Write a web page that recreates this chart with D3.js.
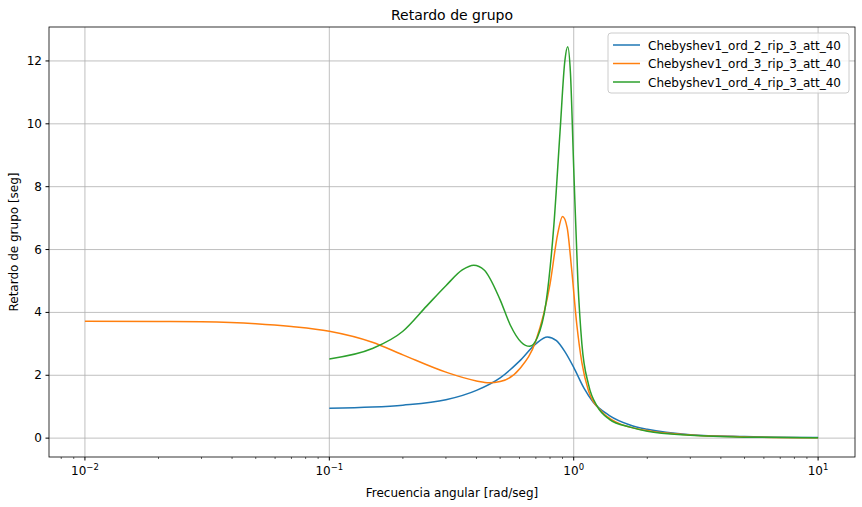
<!DOCTYPE html><html><head><meta charset="utf-8">
<script src="https://cdn.jsdelivr.net/npm/d3@7"></script>
<style>body{margin:0;background:#fff}text{font-family:"DejaVu Sans",sans-serif}</style></head><body>
<svg id="c" width="862" height="507"></svg>
<script>
const seriesNames=["Chebyshev1_ord_2_rip_3_att_40","Chebyshev1_ord_3_rip_3_att_40","Chebyshev1_ord_4_rip_3_att_40"];
const colors=["#1f77b4","#ff7f0e","#2ca02c"];
const ord2=[[0.1,0.95],[0.15,0.99],[0.2,1.05],[0.3,1.22],[0.4,1.52],[0.5,1.92],[0.6,2.45],[0.7,3.0],[0.78,3.22],[0.85,3.1],[0.92,2.75],[1.0,2.25],[1.1,1.6],[1.2,1.15],[1.4,0.72],[1.7,0.42],[2,0.28],[3,0.11],[5,0.05],[10,0.02]];
const ord3=[[0.01,3.72],[0.02,3.71],[0.03,3.7],[0.05,3.64],[0.07,3.55],[0.1,3.4],[0.15,3.05],[0.2,2.65],[0.3,2.1],[0.4,1.82],[0.45,1.76],[0.5,1.8],[0.6,2.2],[0.7,3.1],[0.8,4.9],[0.86,6.5],[0.9,7.05],[0.94,6.7],[0.98,5.4],[1.03,3.6],[1.08,2.4],[1.15,1.5],[1.3,0.85],[1.5,0.5],[2,0.24],[3,0.1],[5,0.04],[10,0.01]];
const ord4=[[0.1,2.52],[0.15,2.85],[0.2,3.4],[0.25,4.2],[0.3,4.85],[0.35,5.35],[0.39,5.5],[0.43,5.35],[0.5,4.4],[0.55,3.6],[0.61,3.05],[0.66,2.92],[0.71,3.2],[0.77,4.3],[0.83,6.8],[0.88,9.8],[0.92,12.0],[0.945,12.45],[0.97,11.6],[1.0,8.6],[1.04,5.0],[1.08,3.0],[1.15,1.7],[1.25,1.0],[1.4,0.6],[1.7,0.35],[2,0.22],[3,0.09],[5,0.03],[10,0.01]];
const yTicks=[0,2,4,6,8,10,12];
const xTicks=[0.01,0.1,1,10];
const data=[ord2,ord3,ord4];
const L=49,R=855,T=27,B=457;
const svg=d3.select("#c");
const x=d3.scaleLog().domain([Math.pow(10,-2.147),Math.pow(10,1.151)]).range([L,R]);
const y=d3.scaleLinear().domain([-0.6,13.08]).range([B,T]);
const g=svg.append("g");
xTicks.forEach(t=>g.append("line").attr("x1",x(t)).attr("x2",x(t)).attr("y1",T).attr("y2",B).attr("stroke","#b0b0b0").attr("stroke-width",0.8));
yTicks.forEach(t=>g.append("line").attr("x1",L).attr("x2",R).attr("y1",y(t)).attr("y2",y(t)).attr("stroke","#b0b0b0").attr("stroke-width",0.8));
const minor=[];for(let e=-3;e<=1;e++)for(let k=2;k<=9;k++){const v=k*Math.pow(10,e);if(v>x.domain()[0]&&v<x.domain()[1])minor.push(v);}
minor.forEach(t=>g.append("line").attr("x1",x(t)).attr("x2",x(t)).attr("y1",B).attr("y2",B+2).attr("stroke","#000").attr("stroke-width",0.6));
xTicks.forEach(t=>{g.append("line").attr("x1",x(t)).attr("x2",x(t)).attr("y1",B).attr("y2",B+3.5).attr("stroke","#000");
 const tx=g.append("text").attr("x",x(t)).attr("y",B+18).attr("text-anchor","middle").attr("font-size",12);
 tx.append("tspan").text("10");tx.append("tspan").attr("dy",-5).attr("font-size",8.5).text(String(Math.round(Math.log10(t))).replace("-","\u2212"));});
yTicks.forEach(t=>{g.append("line").attr("x1",L-3.5).attr("x2",L).attr("y1",y(t)).attr("y2",y(t)).attr("stroke","#000");
 g.append("text").attr("x",L-7).attr("y",y(t)+4).attr("text-anchor","end").attr("font-size",12).text(t);});
const line=d3.line().x(d=>x(d[0])).y(d=>y(d[1])).curve(d3.curveMonotoneX);
data.forEach((d,i)=>g.append("path").attr("d",line(d)).attr("fill","none").attr("stroke",colors[i]).attr("stroke-width",1.5));
g.append("rect").attr("x",L).attr("y",T).attr("width",R-L).attr("height",B-T).attr("fill","none").attr("stroke","#000").attr("stroke-width",0.8);
svg.append("text").attr("x",(L+R)/2).attr("y",20).attr("text-anchor","middle").attr("font-size",14).text("Retardo de grupo");
svg.append("text").attr("x",(L+R)/2).attr("y",497).attr("text-anchor","middle").attr("font-size",12).text("Frecuencia angular [rad/seg]");
svg.append("text").attr("transform","translate(18,"+(T+B)/2+") rotate(-90)").attr("text-anchor","middle").attr("font-size",12).text("Retardo de grupo [seg]");
const lg=svg.append("g");
lg.append("rect").attr("x",608).attr("y",33).attr("width",241).attr("height",60).attr("rx",3).attr("fill","#fff").attr("fill-opacity",0.8).attr("stroke","#ccc");
seriesNames.forEach((n,i)=>{const yy=45+i*18.5;
 lg.append("line").attr("x1",613).attr("x2",640).attr("y1",yy).attr("y2",yy).attr("stroke",colors[i]).attr("stroke-width",1.5);
 lg.append("text").attr("x",648).attr("y",yy+4.5).attr("font-size",12).text(n);});
</script></body></html>
